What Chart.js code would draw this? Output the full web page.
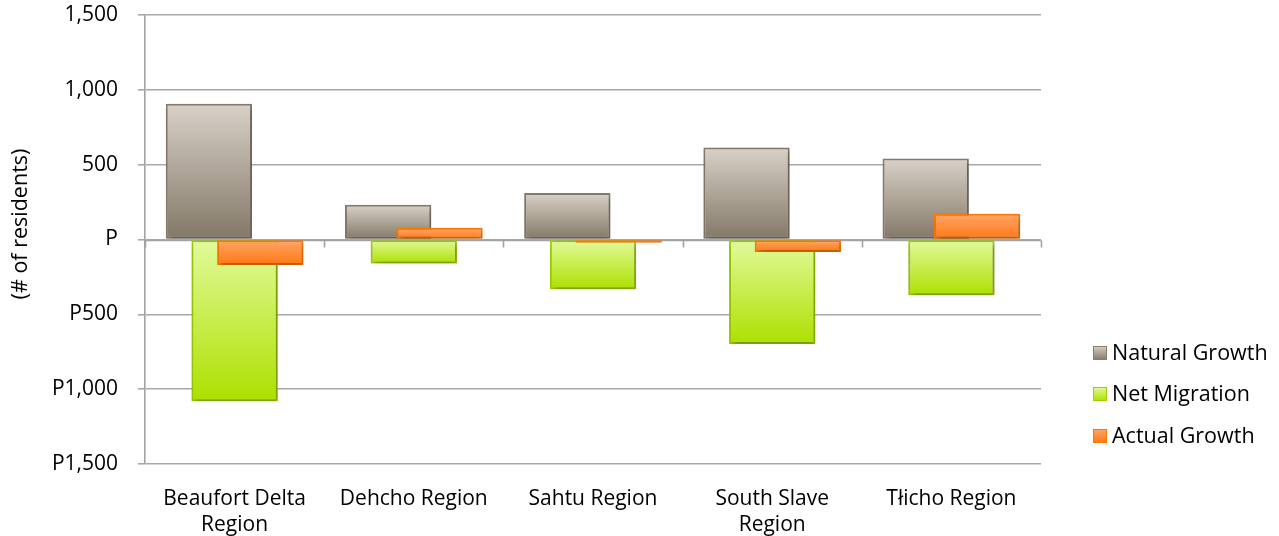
<!DOCTYPE html>
<html>
<head>
<meta charset="utf-8">
<script src="https://cdn.jsdelivr.net/npm/chart.js@4/dist/chart.umd.min.js"></script>
<style>
  html, body { margin: 0; padding: 0; background: #ffffff; }
  #wrap { width: 1279px; height: 536px; position: relative; }
</style>
</head>
<body>
<div id="wrap"><canvas id="chart"></canvas></div>
<script>
// Population change components by region (# of residents)
const regions = [['Beaufort Delta', 'Region'], 'Dehcho Region', 'Sahtu Region', ['South Slave', 'Region'], 'Tłicho Region'];
const naturalGrowth = [907, 233, 311, 615, 541];
const netMigration = [-1080, -160, -333, -698, -373];
const actualGrowth = [-170, 78, -22, -84, 172];

const yTickValues = [1500, 1000, 500, 0, -500, -1000, -1500];
const yTickLabels = ['1,500', '1,000', '500', 'P', 'P500', 'P1,000', 'P1,500'];
const seriesNames = ['Natural Growth', 'Net Migration', 'Actual Growth'];
const yTitle = '(# of residents)';

const FONT = "'Open Sans', 'Noto Sans', sans-serif";

// light-to-dark vertical fills plus edge colour for each series
const palette = [
  { top: '#d9d1c8', bottom: '#837867', border: '#877c6d' },
  { top: '#e2fa9c', bottom: '#ade000', border: '#9fcf00' },
  { top: '#ffa669', bottom: '#ff7812', border: '#ff7a00' }
];

function barFill(p) {
  return function (ctx) {
    const chart = ctx.chart;
    const y = chart.scales && chart.scales.y;
    if (!chart.chartArea || !y || ctx.type !== 'data') return p.bottom;
    const v = ctx.raw;
    const a = y.getPixelForValue(v);
    const b = y.getPixelForValue(0);
    const top = Math.min(a, b), bot = Math.max(a, b);
    if (!isFinite(top) || bot - top < 1) return p.bottom;
    const g = chart.ctx.createLinearGradient(0, top, 0, bot);
    g.addColorStop(0, p.top);
    g.addColorStop(1, p.bottom);
    return g;
  };
}

// horizontal category axis drawn through zero with boundary tick marks
const zeroAxis = {
  id: 'zeroAxis',
  beforeDatasetsDraw(chart) {
    const c = chart.ctx, y = chart.scales.y;
    const y0 = Math.round(y.getPixelForValue(0)) + 0.5;
    c.save();
    c.strokeStyle = '#a3a3a3';
    c.lineWidth = 1.6;
    c.beginPath();
    c.moveTo(chart.chartArea.left, y0);
    c.lineTo(chart.chartArea.right, y0);
    const n = chart.data.labels.length;
    const w = (chart.chartArea.right - chart.chartArea.left) / n;
    for (let i = 0; i <= n; i++) {
      const px = Math.round(chart.chartArea.left + i * w) + 0.5;
      c.moveTo(px, y0);
      c.lineTo(px, y0 + 7);
    }
    c.stroke();
    c.restore();
  }
};

// draw the series left to right so each later series sits on top, with a soft drop shadow
const layeredBars = {
  id: 'layeredBars',
  beforeDatasetsDraw(chart) {
    const c = chart.ctx;
    c.save();
    c.shadowColor = 'rgba(0,0,0,0.32)';
    c.shadowBlur = 6;
    c.shadowOffsetX = 2;
    c.shadowOffsetY = 3;
    for (let i = 0; i < chart.data.datasets.length; i++) {
      const meta = chart.getDatasetMeta(i);
      if (meta.visible !== false) meta.controller.draw();
    }
    c.restore();
    return false;
  }
};

// rotated value-axis title
const axisTitle = {
  id: 'axisTitle',
  afterDraw(chart) {
    const c = chart.ctx;
    c.save();
    c.translate(21, 224);
    c.rotate(-Math.PI / 2);
    c.font = '21.5px ' + FONT;
    c.fillStyle = '#000';
    c.textAlign = 'center';
    c.textBaseline = 'middle';
    c.fillText(yTitle, 0, 0);
    c.restore();
  }
};

// legend to the right of the plot
const sideLegend = {
  id: 'sideLegend',
  afterDraw(chart) {
    const c = chart.ctx;
    const rows = [353, 394, 436];
    c.save();
    c.font = '21.5px ' + FONT;
    c.textBaseline = 'middle';
    c.textAlign = 'left';
    chart.data.datasets.forEach((ds, i) => {
      const p = palette[i];
      const cy = rows[i];
      const bx = 1093, by = cy - 7, s = 14;
      const g = c.createLinearGradient(0, by, 0, by + s);
      g.addColorStop(0, p.top);
      g.addColorStop(1, p.bottom);
      c.fillStyle = g;
      c.fillRect(bx, by, s, s);
      c.strokeStyle = p.border;
      c.lineWidth = 1;
      c.strokeRect(bx + 0.5, by + 0.5, s - 1, s - 1);
      c.fillStyle = '#000';
      c.fillText(ds.label, 1112, cy + 1);
    });
    c.restore();
  }
};

const seriesData = [naturalGrowth, netMigration, actualGrowth];

new Chart(document.getElementById('chart'), {
  type: 'bar',
  data: {
    labels: regions,
    datasets: seriesData.map((d, i) => ({
      label: seriesNames[i],
      data: d,
      backgroundColor: barFill(palette[i]),
      borderColor: palette[i].border,
      borderWidth: 2,
      borderSkipped: false,
      categoryPercentage: 0.43,
      barPercentage: 3.36
    }))
  },
  options: {
    responsive: true,
    maintainAspectRatio: false,
    animation: false,
    layout: { padding: { top: 15, right: 238, left: 0, bottom: 0 } },
    plugins: {
      legend: { display: false },
      tooltip: { enabled: false }
    },
    scales: {
      x: {
        offset: true,
        grid: { display: false },
        border: { display: false },
        ticks: {
          color: '#000',
          font: { family: FONT, size: 21, lineHeight: 1.24 },
          padding: 14,
          maxRotation: 0,
          autoSkip: false
        },
        afterFit(scale) { scale.height = 72; }
      },
      y: {
        min: -1500,
        max: 1500,
        afterBuildTicks(scale) {
          scale.ticks = yTickValues.map(v => ({ value: v }));
        },
        grid: {
          color: '#a8a8a8',
          lineWidth: 1.6,
          tickLength: 7,
          drawTicks: true
        },
        border: { display: true, color: '#a3a3a3', width: 1.6 },
        ticks: {
          color: '#000',
          font: { family: FONT, size: 21 },
          padding: 20,
          callback(value) {
            const k = yTickValues.indexOf(value);
            return k >= 0 ? yTickLabels[k] : '';
          }
        },
        afterFit(scale) {
          scale.width = 145;
          scale.paddingTop = 0;
          scale.paddingBottom = 0;
        }
      }
    }
  },
  plugins: [zeroAxis, layeredBars, axisTitle, sideLegend]
});
</script>
</body>
</html>
